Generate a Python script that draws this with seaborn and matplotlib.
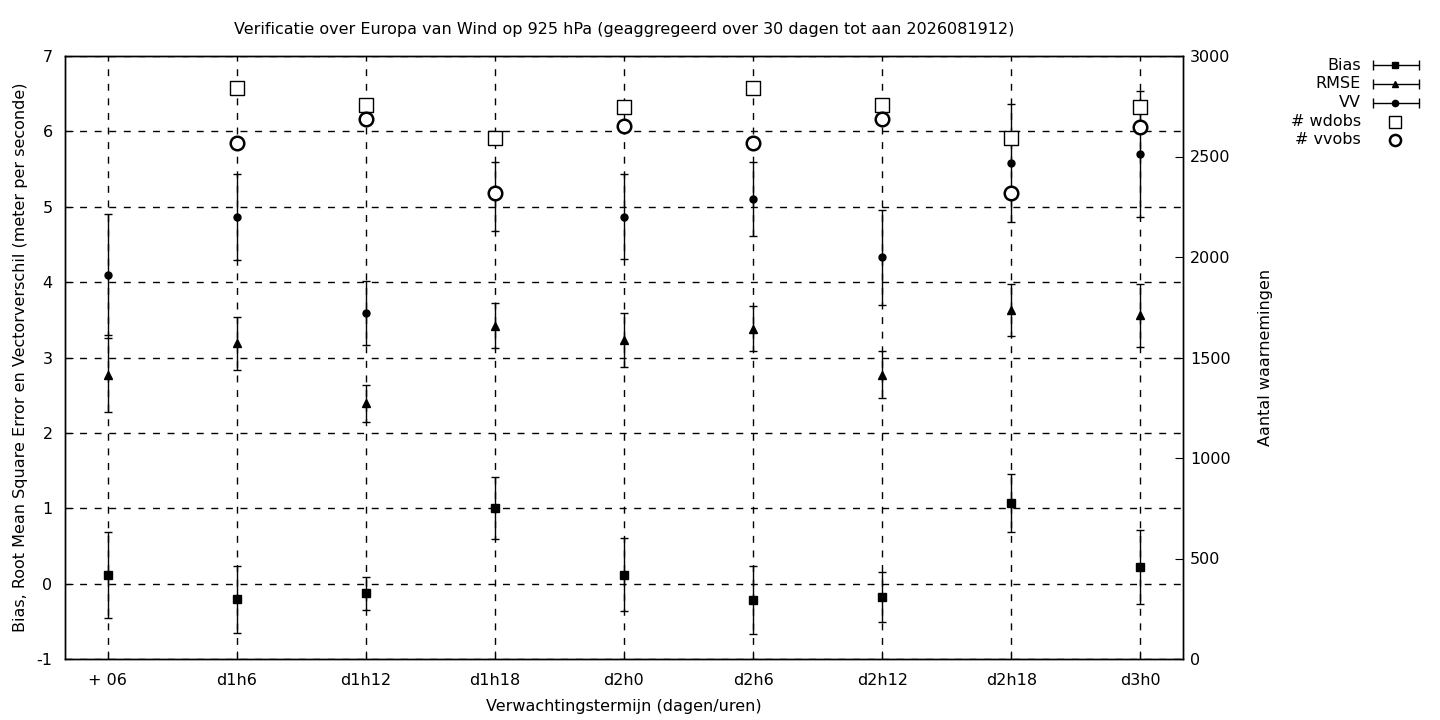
import numpy as np
import matplotlib
matplotlib.use("Agg")
import matplotlib.pyplot as plt
import seaborn as sns
from matplotlib.lines import Line2D

sns.set_style("ticks")
plt.rcParams['font.family'] = ['DejaVu Sans']
plt.rcParams['axes.unicode_minus'] = False
plt.rcParams['text.color'] = "black"
plt.rcParams['axes.labelcolor'] = "black"

# ---- data ----
lead_times = ["+ 06", "d1h6", "d1h12", "d1h18", "d2h0", "d2h6", "d2h12", "d2h18", "d3h0"]

bias = [0.12, -0.21, -0.13, 1.00, 0.12, -0.22, -0.18, 1.07, 0.22]
bias_err = [0.57, 0.44, 0.22, 0.41, 0.48, 0.45, 0.33, 0.39, 0.49]

rmse = [2.77, 3.19, 2.39, 3.42, 3.23, 3.38, 2.77, 3.63, 3.56]
rmse_err = [0.49, 0.35, 0.25, 0.30, 0.36, 0.30, 0.31, 0.35, 0.42]

vv = [4.10, 4.87, 3.59, 5.14, 4.87, 5.10, 4.33, 5.58, 5.70]
vv_err = [0.80, 0.57, 0.42, 0.46, 0.56, 0.49, 0.63, 0.78, 0.84]

wdobs = [np.nan, 2839, 2755, 2590, 2745, 2839, 2755, 2590, 2745]
vvobs = [np.nan, 2566, 2685, 2317, 2650, 2566, 2685, 2317, 2648]

title = "Verificatie over Europa van Wind op 925 hPa (geaggregeerd over 30 dagen tot aan 2026081912)"

FS = 11.5

# ---- figure ----
fig = plt.figure(figsize=(14.4, 7.2), dpi=100)
ax = fig.add_axes([65 / 1440, 1 - 659 / 720, (1183 - 65) / 1440, (659 - 56) / 720])
ax2 = ax.twinx()

x = np.arange(len(lead_times))

for vals, errs, mk, ms in [(bias, bias_err, "s", 5.5),
                           (rmse, rmse_err, "^", 5.5),
                           (vv, vv_err, "o", 5)]:
    ax.errorbar(x, vals, yerr=errs, fmt=mk, color="black", ms=ms,
                ecolor="black", elinewidth=1, capsize=3.2, capthick=1, zorder=4)

sns.scatterplot(x=x, y=wdobs, ax=ax2, marker="s", s=105, facecolor="white",
                edgecolor="black", linewidth=1, zorder=5)
sns.scatterplot(x=x, y=vvobs, ax=ax2, marker="o", s=95, facecolor="white",
                edgecolor="black", linewidth=1.8, zorder=5)

ax.set_xlim(-0.33, len(lead_times) - 1 + 0.33)
ax.set_ylim(-1, 7)
ax2.set_ylim(0, 3000)
ax.set_xticks(x)
ax.set_xticklabels(lead_times)
ax.set_yticks(range(-1, 8))
ax2.set_yticks(range(0, 3001, 500))

ax.grid(True, color="black", linestyle=(0, (5, 5.5)), linewidth=1)
ax.set_axisbelow(True)

for a in (ax, ax2):
    for sp in a.spines.values():
        sp.set_visible(True)
        sp.set_color("black")
        sp.set_linewidth(1)

ax.tick_params(axis="both", direction="in", length=6, labelsize=FS, colors="black")
ax.tick_params(axis="y", pad=9)
ax.tick_params(axis="x", pad=10)
ax2.tick_params(axis="y", direction="in", length=6, labelsize=FS, pad=5, colors="black")

ax.set_xlabel("Verwachtingstermijn (dagen/uren)", fontsize=FS, labelpad=8)
ax.set_ylabel("Bias, Root Mean Square Error en Vectorverschil (meter per seconde)", fontsize=FS, labelpad=6)
ax2.set_ylabel("Aantal waarnemingen", fontsize=FS, labelpad=20)
ax.set_title(title, fontsize=FS, pad=16)

# ---- gnuplot-like key, outside the plot ----
W, H = 1440, 720
rows = [("Bias", "s", 5, "black", True),
        ("RMSE", "^", 4.5, "black", True),
        ("VV", "o", 4.5, "black", True),
        ("# wdobs", "s", 8.5, "white", False),
        ("# vvobs", "o", 8, "white", False)]
ys = [65, 84, 102.7, 121.7, 140]
for (lab, mk, ms, fc, bar), yy in zip(rows, ys):
    fy = 1 - yy / H
    fig.text(1361 / W, fy, lab, ha="right", va="center", fontsize=FS)
    if bar:
        fig.add_artist(Line2D([1373 / W, 1419 / W], [fy, fy], color="black", lw=1))
        fig.add_artist(Line2D([1373 / W, 1419 / W], [fy, fy], color="black", lw=0,
                              marker="|", ms=7, mew=1))
    mew = 1.8 if mk == "o" and not bar else 1
    fig.add_artist(Line2D([1395 / W], [fy], marker=mk, ms=ms, mfc=fc, mec="black",
                          mew=mew, lw=0))

fig.savefig("out.png", dpi=100)
